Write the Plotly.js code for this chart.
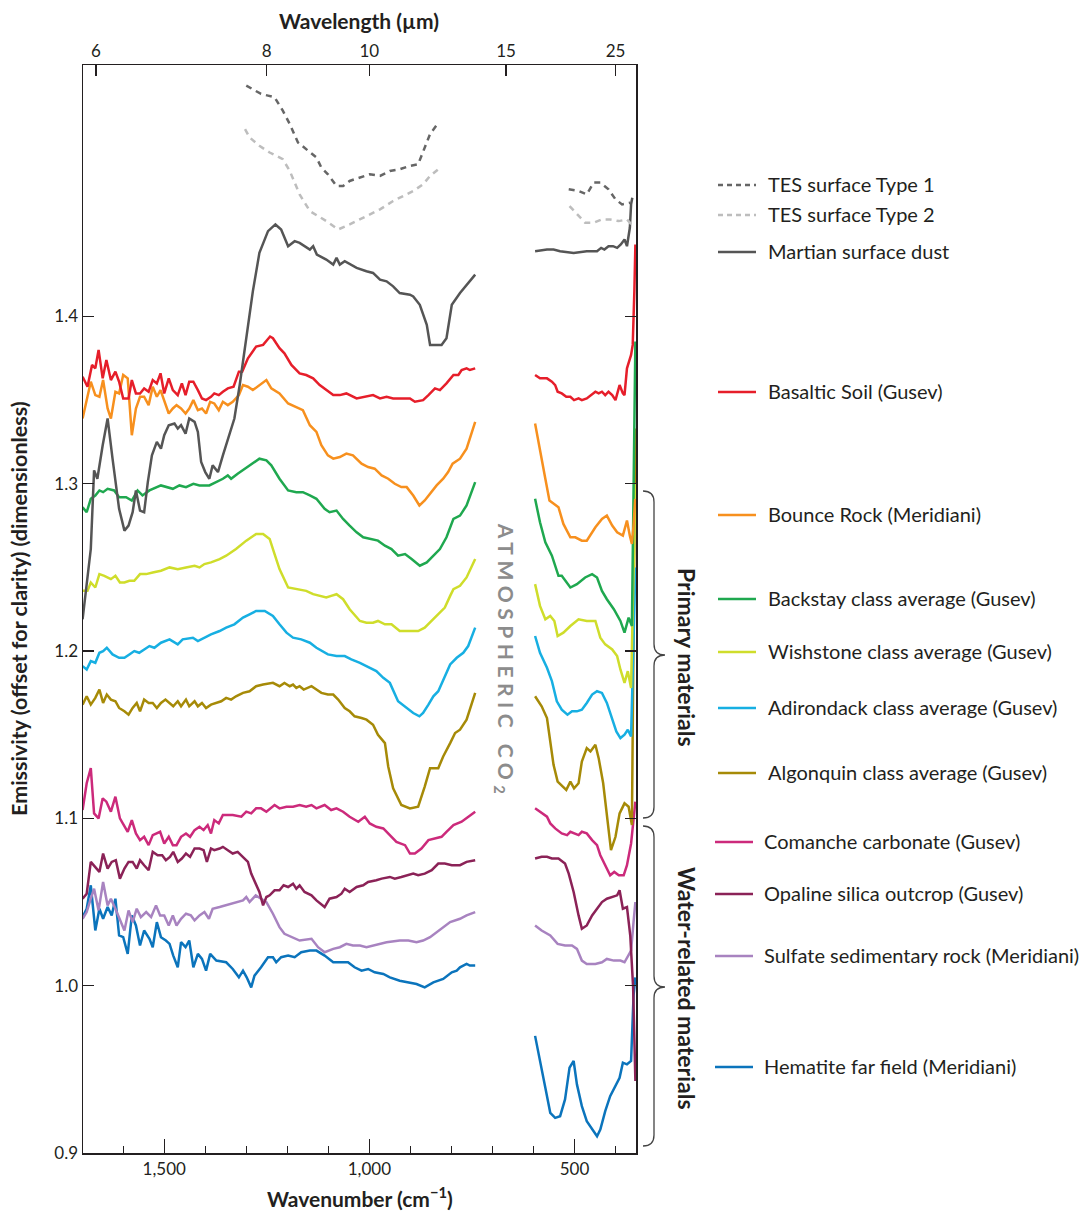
<!DOCTYPE html>
<html><head><meta charset="utf-8">
<script src="https://cdn.plot.ly/plotly-3.0.1.min.js"></script>
<style>html,body{margin:0;padding:0;background:#fff}</style>
</head><body><div id="chart" style="width:1084px;height:1213px"></div>
<script>
// ---- data: [wavenumber cm-1, emissivity] ; left = above CO2 band, right = below ----
const tesType1Left = [[1300,1.538],[1280,1.535],[1264,1.533],[1247,1.532],[1231,1.531],[1211,1.523],[1194,1.515],[1174,1.504],[1154,1.500],[1129,1.495],[1117,1.489],[1101,1.485],[1080,1.478],[1064,1.478],[1048,1.481],[1023,1.483],[999,1.485],[974,1.484],[950,1.487],[926,1.488],[901,1.490],[881,1.491],[865,1.501],[852,1.509],[834,1.515]];
const tesType1Right = [[514,1.476],[490,1.475],[470,1.473],[453,1.480],[437,1.480],[417,1.476],[400,1.470],[384,1.467],[364,1.468]];
const tesType2Left = [[1303,1.512],[1292,1.507],[1268,1.502],[1243,1.498],[1211,1.494],[1194,1.487],[1170,1.473],[1145,1.463],[1105,1.457],[1076,1.452],[1048,1.455],[1007,1.460],[974,1.464],[942,1.469],[893,1.475],[869,1.479],[852,1.484],[832,1.488]];
const tesType2Right = [[512,1.466],[494,1.461],[474,1.456],[453,1.456],[433,1.458],[413,1.458],[392,1.457],[372,1.458],[354,1.453]];
const dustLeft = [[1699,1.219],[1679,1.261],[1671,1.308],[1663,1.303],[1650,1.323],[1638,1.339],[1626,1.315],[1610,1.285],[1597,1.272],[1587,1.275],[1577,1.283],[1569,1.296],[1559,1.284],[1549,1.283],[1540,1.301],[1530,1.317],[1518,1.325],[1508,1.321],[1500,1.329],[1489,1.335],[1475,1.336],[1467,1.333],[1459,1.335],[1448,1.330],[1439,1.339],[1426,1.337],[1418,1.331],[1410,1.313],[1400,1.307],[1390,1.303],[1382,1.311],[1369,1.307],[1357,1.317],[1341,1.329],[1329,1.339],[1316,1.359],[1304,1.379],[1292,1.401],[1284,1.415],[1268,1.438],[1247,1.451],[1229,1.455],[1215,1.452],[1198,1.442],[1182,1.445],[1170,1.444],[1145,1.440],[1137,1.442],[1128,1.437],[1105,1.434],[1088,1.431],[1080,1.435],[1072,1.431],[1060,1.433],[1031,1.429],[1007,1.427],[991,1.426],[974,1.422],[958,1.421],[942,1.418],[926,1.414],[901,1.413],[893,1.412],[877,1.407],[860,1.395],[852,1.383],[824,1.383],[812,1.387],[799,1.407],[779,1.414],[759,1.420],[742,1.425]];
const dustRight = [[596,1.439],[567,1.440],[551,1.440],[535,1.439],[502,1.438],[470,1.439],[445,1.439],[435,1.441],[427,1.440],[417,1.442],[406,1.442],[396,1.441],[387,1.443],[378,1.446],[372,1.442],[365,1.453],[362,1.467],[359,1.471]];
const basalticLeft = [[1699,1.364],[1687,1.358],[1676,1.371],[1668,1.369],[1660,1.380],[1650,1.363],[1641,1.374],[1630,1.362],[1619,1.367],[1610,1.361],[1600,1.351],[1587,1.351],[1579,1.362],[1569,1.354],[1559,1.354],[1549,1.357],[1538,1.355],[1528,1.362],[1518,1.360],[1509,1.366],[1500,1.354],[1489,1.363],[1479,1.356],[1467,1.353],[1457,1.360],[1448,1.353],[1439,1.361],[1429,1.361],[1418,1.356],[1408,1.351],[1398,1.350],[1386,1.352],[1378,1.354],[1367,1.353],[1357,1.355],[1345,1.357],[1331,1.358],[1318,1.367],[1310,1.367],[1296,1.375],[1276,1.382],[1259,1.383],[1242,1.388],[1235,1.387],[1219,1.381],[1207,1.378],[1190,1.371],[1170,1.366],[1154,1.365],[1137,1.363],[1121,1.359],[1105,1.356],[1088,1.353],[1072,1.353],[1056,1.354],[1031,1.351],[1007,1.352],[991,1.353],[974,1.351],[958,1.352],[942,1.351],[926,1.351],[901,1.351],[889,1.349],[869,1.350],[856,1.353],[840,1.357],[828,1.356],[812,1.360],[795,1.365],[783,1.365],[775,1.368],[763,1.369],[755,1.368],[742,1.369]];
const basalticRight = [[596,1.365],[584,1.363],[567,1.363],[555,1.361],[547,1.359],[541,1.355],[531,1.354],[520,1.352],[510,1.352],[501,1.350],[490,1.351],[482,1.350],[470,1.351],[460,1.353],[449,1.355],[441,1.354],[433,1.355],[425,1.353],[417,1.355],[408,1.353],[400,1.350],[390,1.359],[382,1.354],[378,1.353],[372,1.369],[362,1.377],[358,1.383],[354,1.415],[351.5,1.443]];
const bounceLeft = [[1699,1.339],[1689,1.351],[1679,1.361],[1668,1.353],[1658,1.352],[1649,1.362],[1638,1.345],[1630,1.339],[1619,1.355],[1610,1.354],[1600,1.365],[1589,1.363],[1579,1.329],[1569,1.345],[1559,1.352],[1549,1.352],[1538,1.347],[1528,1.358],[1518,1.352],[1509,1.356],[1500,1.350],[1489,1.342],[1479,1.345],[1470,1.347],[1459,1.345],[1448,1.342],[1439,1.345],[1429,1.350],[1418,1.344],[1408,1.345],[1398,1.342],[1388,1.349],[1378,1.348],[1367,1.344],[1357,1.349],[1345,1.347],[1333,1.349],[1318,1.353],[1308,1.359],[1296,1.358],[1284,1.356],[1268,1.359],[1251,1.362],[1239,1.357],[1219,1.354],[1198,1.348],[1178,1.346],[1162,1.344],[1145,1.335],[1129,1.331],[1117,1.323],[1101,1.317],[1088,1.315],[1072,1.316],[1056,1.318],[1040,1.317],[1019,1.312],[1003,1.310],[987,1.309],[970,1.305],[954,1.303],[938,1.300],[922,1.298],[909,1.298],[893,1.293],[878,1.287],[865,1.290],[852,1.294],[836,1.299],[820,1.303],[808,1.307],[797,1.312],[779,1.315],[763,1.321],[742,1.337]];
const bounceRight = [[596,1.336],[584,1.319],[571,1.303],[561,1.290],[539,1.286],[527,1.276],[510,1.268],[498,1.268],[482,1.266],[470,1.266],[449,1.274],[433,1.279],[421,1.281],[408,1.275],[396,1.271],[382,1.269],[372,1.278],[365,1.269],[360,1.264],[356,1.275],[352,1.291]];
const backstayLeft = [[1699,1.286],[1689,1.283],[1679,1.291],[1668,1.293],[1658,1.296],[1649,1.295],[1638,1.297],[1622,1.296],[1610,1.292],[1593,1.292],[1579,1.290],[1565,1.296],[1553,1.293],[1536,1.296],[1508,1.299],[1479,1.297],[1463,1.299],[1447,1.298],[1429,1.300],[1414,1.299],[1390,1.299],[1373,1.301],[1357,1.303],[1345,1.305],[1337,1.303],[1321,1.306],[1304,1.309],[1288,1.312],[1268,1.315],[1251,1.314],[1239,1.311],[1219,1.303],[1198,1.296],[1178,1.295],[1162,1.295],[1145,1.293],[1129,1.291],[1109,1.285],[1097,1.283],[1080,1.284],[1064,1.279],[1048,1.275],[1031,1.271],[1015,1.268],[999,1.267],[979,1.266],[962,1.263],[946,1.261],[930,1.257],[913,1.258],[897,1.255],[877,1.251],[860,1.253],[844,1.257],[828,1.261],[812,1.268],[795,1.279],[779,1.281],[763,1.287],[742,1.301]];
const backstayRight = [[596,1.291],[584,1.277],[571,1.265],[555,1.257],[539,1.245],[531,1.245],[510,1.238],[494,1.240],[474,1.244],[457,1.246],[445,1.244],[433,1.236],[421,1.231],[404,1.225],[388,1.218],[378,1.211],[368,1.220],[360,1.215],[351.5,1.385]];
const wishstoneLeft = [[1699,1.236],[1687,1.236],[1679,1.241],[1668,1.238],[1658,1.246],[1646,1.245],[1630,1.243],[1619,1.245],[1608,1.241],[1597,1.241],[1585,1.242],[1573,1.242],[1559,1.246],[1544,1.246],[1528,1.247],[1508,1.248],[1487,1.250],[1467,1.249],[1447,1.250],[1426,1.251],[1414,1.250],[1402,1.252],[1386,1.253],[1365,1.255],[1349,1.257],[1325,1.261],[1300,1.266],[1276,1.270],[1259,1.270],[1243,1.267],[1231,1.258],[1219,1.249],[1198,1.238],[1170,1.237],[1154,1.236],[1137,1.234],[1121,1.233],[1105,1.232],[1093,1.233],[1080,1.234],[1064,1.231],[1048,1.225],[1023,1.218],[1007,1.217],[991,1.217],[979,1.218],[962,1.216],[946,1.216],[926,1.212],[901,1.212],[881,1.212],[865,1.214],[844,1.219],[832,1.222],[816,1.226],[803,1.233],[795,1.237],[779,1.239],[763,1.244],[742,1.255]];
const wishstoneRight = [[596,1.240],[584,1.227],[571,1.219],[559,1.221],[549,1.218],[541,1.209],[527,1.211],[510,1.215],[490,1.219],[470,1.218],[449,1.218],[437,1.208],[425,1.204],[408,1.201],[396,1.197],[388,1.189],[378,1.181],[370,1.188],[362,1.178],[351.5,1.300]];
const adirondackLeft = [[1699,1.191],[1689,1.189],[1679,1.194],[1668,1.193],[1658,1.199],[1649,1.200],[1640,1.202],[1626,1.198],[1610,1.196],[1597,1.196],[1585,1.198],[1573,1.200],[1561,1.199],[1549,1.201],[1536,1.203],[1524,1.202],[1508,1.205],[1487,1.207],[1467,1.204],[1455,1.207],[1430,1.208],[1418,1.206],[1402,1.208],[1386,1.210],[1365,1.212],[1349,1.214],[1329,1.216],[1308,1.220],[1292,1.222],[1276,1.224],[1255,1.224],[1235,1.221],[1219,1.216],[1202,1.211],[1186,1.208],[1166,1.207],[1145,1.205],[1129,1.202],[1101,1.198],[1080,1.197],[1060,1.197],[1044,1.195],[1023,1.193],[1007,1.191],[983,1.188],[966,1.184],[950,1.181],[930,1.170],[909,1.166],[893,1.163],[878,1.161],[869,1.163],[856,1.168],[844,1.173],[832,1.176],[820,1.183],[803,1.192],[787,1.196],[771,1.199],[759,1.203],[742,1.214]];
const adirondackRight = [[596,1.209],[584,1.199],[567,1.190],[555,1.182],[543,1.170],[531,1.165],[517,1.162],[506,1.164],[494,1.164],[482,1.165],[470,1.169],[457,1.174],[445,1.176],[433,1.175],[421,1.169],[408,1.160],[398,1.152],[388,1.148],[378,1.150],[370,1.153],[362,1.149],[351.5,1.250]];
const algonquinLeft = [[1699,1.168],[1689,1.173],[1679,1.168],[1668,1.172],[1658,1.177],[1649,1.169],[1640,1.174],[1630,1.171],[1619,1.170],[1610,1.166],[1597,1.164],[1587,1.162],[1577,1.166],[1567,1.169],[1559,1.164],[1549,1.171],[1538,1.169],[1528,1.169],[1518,1.166],[1508,1.169],[1497,1.171],[1487,1.169],[1478,1.167],[1467,1.170],[1459,1.167],[1447,1.171],[1439,1.167],[1426,1.170],[1418,1.167],[1408,1.169],[1398,1.166],[1386,1.168],[1373,1.169],[1361,1.170],[1349,1.172],[1337,1.171],[1325,1.173],[1308,1.175],[1292,1.176],[1276,1.179],[1259,1.180],[1235,1.181],[1219,1.179],[1207,1.181],[1194,1.179],[1186,1.180],[1178,1.178],[1170,1.179],[1160,1.177],[1141,1.179],[1129,1.177],[1117,1.175],[1101,1.174],[1088,1.174],[1076,1.171],[1060,1.166],[1048,1.164],[1036,1.161],[1019,1.160],[1007,1.159],[991,1.156],[979,1.150],[962,1.145],[954,1.131],[942,1.118],[922,1.108],[901,1.106],[881,1.107],[865,1.119],[852,1.130],[832,1.130],[820,1.137],[803,1.145],[791,1.151],[779,1.153],[763,1.159],[742,1.175]];
const algonquinRight = [[596,1.173],[580,1.167],[567,1.160],[559,1.145],[551,1.132],[541,1.122],[528,1.119],[520,1.117],[510,1.122],[501,1.118],[490,1.121],[482,1.134],[470,1.142],[461,1.140],[449,1.144],[441,1.136],[430,1.121],[421,1.103],[411,1.081],[400,1.089],[390,1.103],[378,1.109],[368,1.107],[360,1.096],[351.5,1.333]];
const comancheLeft = [[1699,1.105],[1689,1.121],[1679,1.130],[1671,1.103],[1660,1.100],[1650,1.112],[1641,1.110],[1630,1.104],[1619,1.113],[1608,1.100],[1601,1.097],[1589,1.092],[1579,1.099],[1569,1.091],[1559,1.087],[1549,1.089],[1538,1.084],[1528,1.090],[1510,1.092],[1500,1.085],[1489,1.089],[1479,1.084],[1470,1.084],[1459,1.089],[1447,1.091],[1437,1.089],[1426,1.093],[1414,1.095],[1404,1.093],[1394,1.096],[1386,1.091],[1378,1.099],[1367,1.097],[1357,1.102],[1333,1.102],[1312,1.101],[1300,1.104],[1288,1.103],[1276,1.106],[1264,1.106],[1251,1.104],[1231,1.108],[1219,1.106],[1202,1.107],[1186,1.107],[1170,1.108],[1154,1.107],[1141,1.108],[1129,1.106],[1109,1.108],[1093,1.105],[1080,1.106],[1064,1.104],[1048,1.101],[1027,1.098],[1011,1.101],[999,1.097],[983,1.095],[966,1.094],[950,1.090],[934,1.086],[913,1.084],[901,1.079],[889,1.079],[873,1.082],[856,1.087],[840,1.088],[824,1.089],[812,1.092],[795,1.096],[775,1.098],[759,1.101],[742,1.104]];
const comancheRight = [[596,1.106],[580,1.103],[567,1.101],[559,1.097],[547,1.094],[531,1.091],[518,1.090],[510,1.092],[498,1.091],[490,1.090],[482,1.092],[470,1.091],[457,1.087],[445,1.084],[437,1.078],[425,1.072],[413,1.066],[403,1.068],[392,1.066],[380,1.066],[372,1.072],[362,1.085],[351.5,1.110]];
const opalineLeft = [[1699,1.052],[1689,1.055],[1679,1.074],[1668,1.071],[1658,1.068],[1649,1.079],[1638,1.070],[1628,1.074],[1618,1.075],[1608,1.064],[1597,1.070],[1587,1.074],[1577,1.074],[1567,1.070],[1559,1.075],[1549,1.072],[1538,1.069],[1528,1.080],[1516,1.078],[1505,1.078],[1496,1.075],[1486,1.077],[1478,1.080],[1467,1.074],[1457,1.076],[1447,1.079],[1437,1.077],[1426,1.082],[1414,1.082],[1404,1.081],[1396,1.074],[1386,1.082],[1378,1.081],[1365,1.082],[1357,1.083],[1345,1.081],[1333,1.079],[1321,1.080],[1308,1.077],[1296,1.074],[1288,1.067],[1276,1.061],[1268,1.056],[1259,1.048],[1251,1.053],[1243,1.054],[1231,1.057],[1219,1.057],[1209,1.060],[1198,1.059],[1186,1.061],[1178,1.058],[1170,1.060],[1158,1.056],[1141,1.054],[1129,1.051],[1109,1.047],[1097,1.052],[1080,1.053],[1068,1.055],[1060,1.058],[1048,1.056],[1031,1.059],[1015,1.060],[1003,1.062],[983,1.063],[970,1.064],[950,1.065],[938,1.064],[922,1.065],[905,1.066],[893,1.067],[881,1.066],[865,1.067],[848,1.069],[832,1.073],[816,1.073],[799,1.072],[779,1.072],[763,1.074],[742,1.075]];
const opalineRight = [[596,1.076],[580,1.077],[567,1.077],[555,1.076],[539,1.076],[523,1.073],[514,1.067],[502,1.056],[490,1.042],[482,1.034],[470,1.036],[457,1.042],[445,1.046],[433,1.050],[421,1.052],[408,1.053],[396,1.054],[390,1.057],[382,1.046],[372,1.047],[364,1.030],[357,0.999],[351.5,0.943]];
const sulfateLeft = [[1699,1.040],[1689,1.044],[1679,1.052],[1671,1.058],[1660,1.045],[1649,1.062],[1638,1.048],[1630,1.052],[1619,1.046],[1608,1.040],[1597,1.033],[1587,1.045],[1577,1.038],[1567,1.046],[1557,1.041],[1544,1.044],[1532,1.041],[1520,1.048],[1510,1.042],[1500,1.042],[1489,1.036],[1479,1.042],[1470,1.036],[1459,1.040],[1447,1.043],[1435,1.042],[1426,1.039],[1414,1.042],[1402,1.044],[1391,1.040],[1382,1.046],[1365,1.047],[1349,1.048],[1333,1.049],[1321,1.050],[1308,1.051],[1300,1.053],[1292,1.050],[1277,1.054],[1264,1.052],[1251,1.050],[1235,1.043],[1219,1.035],[1207,1.031],[1186,1.029],[1170,1.027],[1141,1.028],[1125,1.023],[1109,1.020],[1088,1.022],[1072,1.023],[1056,1.025],[1040,1.024],[1023,1.024],[1007,1.023],[991,1.024],[974,1.025],[958,1.026],[926,1.027],[905,1.027],[885,1.026],[869,1.027],[852,1.029],[836,1.032],[820,1.035],[803,1.038],[779,1.040],[763,1.042],[742,1.044]];
const sulfateRight = [[596,1.036],[580,1.033],[559,1.030],[541,1.025],[523,1.024],[506,1.024],[494,1.022],[482,1.015],[470,1.013],[449,1.013],[433,1.014],[421,1.016],[404,1.015],[388,1.015],[378,1.014],[370,1.018],[362,1.021],[356,1.038],[351.5,1.050]];
const hematiteLeft = [[1699,1.041],[1689,1.046],[1679,1.060],[1668,1.033],[1658,1.046],[1649,1.040],[1638,1.047],[1628,1.042],[1619,1.052],[1610,1.030],[1600,1.029],[1589,1.019],[1579,1.042],[1569,1.036],[1559,1.024],[1549,1.033],[1536,1.028],[1528,1.023],[1518,1.038],[1508,1.029],[1496,1.027],[1487,1.025],[1478,1.018],[1467,1.011],[1459,1.026],[1448,1.023],[1439,1.027],[1429,1.011],[1418,1.019],[1408,1.016],[1398,1.009],[1388,1.019],[1373,1.015],[1349,1.014],[1333,1.010],[1318,1.005],[1308,1.009],[1299,1.005],[1288,0.999],[1280,1.006],[1264,1.011],[1247,1.017],[1235,1.017],[1227,1.014],[1215,1.017],[1198,1.018],[1182,1.017],[1166,1.020],[1145,1.021],[1129,1.021],[1109,1.018],[1088,1.014],[1068,1.014],[1052,1.014],[1036,1.011],[1019,1.009],[1003,1.010],[987,1.008],[966,1.007],[950,1.005],[926,1.003],[901,1.002],[885,1.001],[865,0.999],[844,1.002],[820,1.004],[799,1.008],[787,1.009],[779,1.011],[763,1.013],[755,1.012],[742,1.012]];
const hematiteRight = [[596,0.970],[584,0.954],[571,0.939],[559,0.924],[547,0.921],[535,0.922],[523,0.932],[512,0.951],[502,0.955],[494,0.941],[482,0.928],[470,0.919],[457,0.914],[445,0.910],[437,0.914],[425,0.925],[413,0.934],[400,0.940],[390,0.945],[382,0.954],[372,0.953],[362,0.955],[356,0.994],[351.5,1.005]];

// axis ticks
const xTickVals = [1500, 1000, 500];
const xTickText = ['1,500', '1,000', '500'];
const wavelengthsUm = [6, 8, 10, 15, 25];
const yTickVals = [0.9, 1.0, 1.1, 1.2, 1.3, 1.4];
const yTickText = ['0.9', '1.0', '1.1', '1.2', '1.3', '1.4'];

// series definitions (label, data, style)
const seriesLabels = ['TES surface Type 1','TES surface Type 2','Martian surface dust','Basaltic Soil (Gusev)','Bounce Rock (Meridiani)','Backstay class average (Gusev)','Wishstone class average (Gusev)','Adirondack class average (Gusev)','Algonquin class average (Gusev)','Comanche carbonate (Gusev)','Opaline silica outcrop (Gusev)','Sulfate sedimentary rock (Meridiani)','Hematite far field (Meridiani)'];
const seriesData = [[tesType1Left,tesType1Right],[tesType2Left,tesType2Right],[dustLeft,dustRight],[basalticLeft,basalticRight],[bounceLeft,bounceRight],[backstayLeft,backstayRight],[wishstoneLeft,wishstoneRight],[adirondackLeft,adirondackRight],[algonquinLeft,algonquinRight],[comancheLeft,comancheRight],[opalineLeft,opalineRight],[sulfateLeft,sulfateRight],[hematiteLeft,hematiteRight]];
const seriesColors = ['#666666','#bdbdbd','#555555','#e61e2a','#f7901e','#1fa84f','#cfdd2b','#17afe2','#a68a07','#cc2a7b','#8b2257','#a883c0','#0b74bc'];
const seriesDash = ['6px,5px','6px,5px','solid','solid','solid','solid','solid','solid','solid','solid','solid','solid','solid'];
// legend layout (pixel positions)
const legendY = [185,215,252,392,515,599,652,708,773,842,894,956,1067];

const FONT = 'Lato, "Open Sans", sans-serif';
const INK = '#231f20';
const PW = 553, PH = 1088, L = 83, B = 1153;
const px = x => (x - L) / PW;
const py = y => (B - y) / PH;

const traces = [];
for (let i = seriesData.length - 1; i >= 0; i--) {
  for (const part of seriesData[i]) {
    traces.push({
      type: 'scatter', mode: 'lines',
      x: part.map(p => p[0]), y: part.map(p => p[1]),
      line: {color: seriesColors[i], width: 2.5, dash: seriesDash[i]},
      hoverinfo: 'skip', showlegend: false
    });
  }
}
// invisible trace to anchor top wavelength axis
traces.push({type:'scatter', mode:'lines', x: tesType1Left.map(p=>p[0]), y: tesType1Left.map(p=>p[1]),
  xaxis:'x2', yaxis:'y', line:{width:0}, opacity:0, hoverinfo:'skip', showlegend:false});

const shapes = [];
const annotations = [];
function note(xPx, yPx, text, size, opts) {
  annotations.push(Object.assign({xref:'paper', yref:'paper', x:px(xPx), y:py(yPx), xanchor:'center', yanchor:'middle',
    text, showarrow:false, font:{family:FONT, size, color:INK}}, opts || {}));
}
seriesLabels.forEach((lab, i) => {
  const water = i >= 9;
  const x0 = water ? 715 : 718, x1 = water ? 753 : 756, tx = water ? 762 : 766;
  shapes.push({type:'line', xref:'paper', yref:'paper', x0:px(x0), x1:px(x1), y0:py(legendY[i]), y1:py(legendY[i]),
    line:{color: seriesColors[i], width: 2.5, dash: seriesDash[i] === 'solid' ? 'solid' : '5px,4px'}});
  note(tx, legendY[i] - 1, lab, 20, {xanchor:'left'});
});

function brace(top, tip, bottom) {
  const xv = 654, xe = 643, xt = 665, r = 11;
  const P = (x, y) => px(x).toFixed(5) + ',' + py(y).toFixed(5);
  return 'M' + P(xe, top) + ' Q' + P(xv, top) + ' ' + P(xv, top + r) +
    ' L' + P(xv, tip - r) + ' Q' + P(xv, tip) + ' ' + P(xt, tip) +
    ' Q' + P(xv, tip) + ' ' + P(xv, tip + r) +
    ' L' + P(xv, bottom - r) + ' Q' + P(xv, bottom) + ' ' + P(xe, bottom);
}
shapes.push({type:'path', xref:'paper', yref:'paper', path: brace(491, 655, 818), line:{color:'#444', width:1.3}});
shapes.push({type:'path', xref:'paper', yref:'paper', path: brace(826, 987, 1146), line:{color:'#444', width:1.3}});

note(687, 657, '<b>Primary materials</b>', 23, {textangle:90});
note(687, 988, '<b>Water-related materials</b>', 23, {textangle:90});
note(505, 661, '<b>ATMOSPHERIC CO<sub>2</sub></b>', 21, {textangle:90, font:{family:FONT, size:21, color:'#8c8c8c'}});
note(359, 20, '<b>Wavelength (µm)</b>', 21);
note(360, 1197, '<b>Wavenumber (cm<sup>−1</sup>)</b>', 21);
note(19, 609, '<b>Emissivity (offset for clarity) (dimensionless)</b>', 21.5, {textangle:-90});

const xRange = [1698, 350];
const layout = {
  width: 1084, height: 1213,
  margin: {l: L, r: 1084 - L - PW, t: 65, b: 1213 - B, autoexpand: false},
  paper_bgcolor: '#fff', plot_bgcolor: '#fff',
  showlegend: false,
  font: {family: FONT, color: INK, size: 17},
  xaxis: {range: xRange, tickmode:'array', tickvals: xTickVals, ticktext: xTickText,
    ticks:'inside', ticklen: 14, tickwidth: 1.3, tickcolor: INK,
    minor: {dtick: 100, tick0: 0, ticks:'inside', ticklen: 7, tickwidth: 1.2, tickcolor: INK, showgrid:false},
    showline: true, linecolor: INK, linewidth: 1.5, mirror: false, showgrid: false, zeroline: false,
    tickfont: {family: FONT, size: 17, color: INK}},
  xaxis2: {range: xRange, overlaying: 'x', side: 'top', anchor: 'y', tickmode:'array',
    tickvals: wavelengthsUm.map(w => 10000 / w), ticktext: wavelengthsUm.map(String),
    ticks:'inside', ticklen: 11, tickwidth: 1.3, tickcolor: INK,
    showline: true, linecolor: INK, linewidth: 1.5, showgrid: false, zeroline: false,
    tickfont: {family: FONT, size: 17, color: INK}},
  yaxis: {range: [0.9, 1.5503], tickmode:'array', tickvals: yTickVals, ticktext: yTickText,
    ticks:'inside', ticklen: 11, tickwidth: 1.3, tickcolor: INK,
    showline: true, linecolor: INK, linewidth: 1.5, mirror: 'ticks', showgrid: false, zeroline: false,
    tickfont: {family: FONT, size: 17, color: INK}},
  shapes, annotations
};

Plotly.newPlot('chart', traces, layout, {displayModeBar: false, staticPlot: true}).then(() => {
  document.querySelectorAll('.annotation-text').forEach(t => {
    if (t.textContent.indexOf('ATMOSPHERIC') >= 0) t.setAttribute('letter-spacing', '5.5px');
  });
});
</script></body></html>
